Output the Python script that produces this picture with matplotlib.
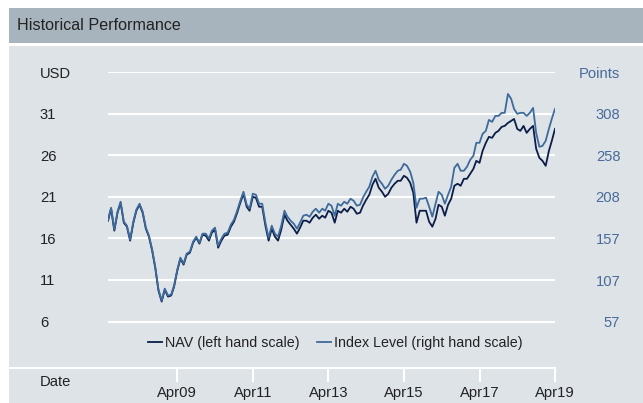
import numpy as np
import pandas as pd
import matplotlib
matplotlib.use("Agg")
import matplotlib.pyplot as plt
import matplotlib.dates as mdates
from matplotlib.patches import Rectangle
from matplotlib.lines import Line2D

# monthly observations, Jun 2007 .. Apr 2019
dates = pd.date_range("2007-06-01", "2019-04-01", freq="MS")

# NAV in USD (left hand scale)
nav = [18.14, 19.58, 16.94, 19.10, 20.30, 17.90, 17.42, 15.74, 17.90, 19.34,
       20.06, 19.10, 17.18, 16.22, 14.53, 12.37, 9.73, 8.40, 9.85, 9.00,
       9.13, 10.21, 12.13, 13.57, 12.85, 14.05, 14.29, 15.50, 16.10, 15.38,
       16.46, 16.34, 15.74, 16.70, 17.06, 14.89, 15.74, 16.34, 16.46, 17.42,
       18.02, 19.10, 20.30, 21.38, 19.82, 19.34, 21.02, 20.90, 19.82, 19.82,
       17.54, 15.74, 17.18, 16.22, 15.74, 17.06, 18.86, 18.14, 17.66, 17.18,
       16.58, 17.30, 18.14, 18.14, 17.90, 18.50, 18.86, 18.38, 18.74, 18.50,
       19.34, 19.10, 17.90, 19.34, 19.10, 19.58, 19.22, 19.82, 19.58, 18.98,
       19.10, 19.94, 20.66, 21.26, 22.47, 23.19, 22.11, 21.63, 21.02, 21.38,
       22.11, 22.59, 22.95, 22.95, 23.55, 23.31, 22.71, 21.50, 17.90, 19.34,
       19.34, 19.34, 18.02, 17.42, 18.38, 20.06, 19.82, 18.74, 20.06, 20.78,
       22.35, 22.59, 22.35, 23.19, 23.19, 23.79, 24.39, 25.35, 25.11, 26.55,
       27.51, 28.24, 28.12, 28.72, 28.96, 29.44, 29.56, 29.92, 30.16, 30.40,
       29.20, 28.96, 29.56, 28.72, 29.20, 29.56, 26.79, 25.71, 25.35, 24.75,
       26.55, 27.75, 29.20]

# Index level in points (right hand scale)
index_level = [180.1, 194.6, 168.0, 189.8, 201.8, 177.7, 172.9, 156.0, 177.7, 192.2,
               199.4, 189.8, 170.5, 160.8, 143.9, 122.2, 95.6, 82.3, 96.8, 88.4,
               89.6, 100.5, 119.8, 134.2, 127.0, 139.1, 141.5, 153.6, 159.6, 152.4,
               163.2, 163.2, 157.2, 166.8, 170.5, 148.7, 157.2, 163.2, 164.4, 174.1,
               180.1, 191.0, 203.0, 213.9, 198.2, 193.4, 211.5, 210.3, 199.4, 199.4,
               176.5, 158.4, 172.9, 163.2, 159.6, 172.9, 191.0, 183.7, 178.9, 175.3,
               169.3, 176.5, 184.9, 186.1, 183.7, 189.8, 193.4, 188.6, 193.4, 191.0,
               199.4, 197.0, 184.9, 199.4, 197.0, 201.8, 199.4, 205.5, 203.0, 197.0,
               198.2, 206.7, 213.9, 219.9, 232.0, 239.3, 228.4, 223.6, 217.5, 221.2,
               228.4, 234.4, 239.3, 240.5, 247.7, 245.3, 238.1, 224.8, 194.6, 205.5,
               205.5, 206.7, 195.8, 183.7, 199.4, 213.9, 210.3, 199.4, 210.3, 219.9,
               242.9, 247.7, 239.3, 239.3, 244.1, 252.5, 257.4, 273.1, 273.1, 283.9,
               287.5, 300.8, 298.4, 305.6, 305.6, 309.3, 309.3, 332.2, 326.2, 314.1,
               308.1, 309.3, 309.3, 305.6, 309.3, 315.3, 285.1, 268.2, 269.4, 275.5,
               290.0, 302.0, 314.1]

left_ticks = [6, 11, 16, 21, 26, 31, 36]
left_labels = ["6", "11", "16", "21", "26", "31", "USD"]
right_ticks = [57, 107, 157, 208, 258, 308, 358.2]
right_labels = ["57", "107", "157", "208", "258", "308", "Points"]
x_ticks = pd.to_datetime(["2009-04-01", "2011-04-01", "2013-04-01",
                          "2015-04-01", "2017-04-01", "2019-04-01"])

# points = scale * usd + offset
scale, offset = 10.04, -3.24

plt.rcParams["font.family"] = ["Liberation Sans", "DejaVu Sans"]
W, H = 643, 403
fs = 10.6
fig = plt.figure(figsize=(W / 100, H / 100), dpi=100, facecolor="white")

# header bar and panel background
fig.add_artist(Rectangle((9 / W, 1 - 43 / H), 1 - 9 / W, 35 / H,
                         transform=fig.transFigure, facecolor="#a7b3bd",
                         edgecolor="none", zorder=0))
fig.add_artist(Rectangle((9 / W, 0), 1 - 9 / W, 1 - 46 / H,
                         transform=fig.transFigure, facecolor="#dde3e7",
                         edgecolor="none", zorder=0))
fig.text(17 / W, 1 - 25 / H, "Historical Performance", fontsize=11.6,
         color="#222222", va="center", ha="left")

ax = fig.add_axes([108 / W, 1 - 368 / H, 447 / W, 296 / H])
ax.set_facecolor("none")
ax.set_zorder(2)
ylo, yhi = 0.4, 36.05
ax.set_ylim(ylo, yhi)
ax.set_xlim(dates[0], dates[-1])

ax.plot(dates, nav, color="#0b1d48", lw=1.3, zorder=3,
        label="NAV (left hand scale)")

ax2 = ax.twinx()
ax2.set_ylim(scale * ylo + offset, scale * yhi + offset)
ax2.plot(dates, index_level, color="#3e6a9c", lw=1.3, zorder=3,
         label="Index Level (right hand scale)")

for a in (ax, ax2):
    for s in a.spines.values():
        s.set_visible(False)

ax.set_yticks(left_ticks)
ax.set_yticklabels(left_labels)
ax.yaxis.grid(True, color="white", lw=1.5)
ax.set_axisbelow(True)
ax.tick_params(axis="y", length=0, pad=49, labelsize=fs, labelcolor="#222222")
for lab in ax.get_yticklabels():
    lab.set_horizontalalignment("left")

ax2.set_yticks(right_ticks)
ax2.set_yticklabels(right_labels)
ax2.tick_params(axis="y", length=0, pad=47, labelsize=fs, labelcolor="#4a6a9a")
for lab in ax2.get_yticklabels():
    lab.set_horizontalalignment("right")

ax.set_xticks(x_ticks)
ax.xaxis.set_major_formatter(mdates.DateFormatter("%b%y"))
ax.tick_params(axis="x", length=10, width=1.5, color="white", direction="out",
               pad=3.0, labelsize=fs, labelcolor="#222222")

# bottom axis line, running out to the panel edge
fig.add_artist(Line2D([9 / W, 555 / W], [1 - 368 / H, 1 - 368 / H],
                      transform=fig.transFigure, color="white", lw=1.5))
fig.text(40 / W, 1 - 382 / H, "Date", fontsize=fs, color="#222222",
         va="center", ha="left")

h1, l1 = ax.get_legend_handles_labels()
h2, l2 = ax2.get_legend_handles_labels()
ax2.legend(h1 + h2, l1 + l2, loc="center", bbox_to_anchor=(0.508, 0.085),
           ncol=2, frameon=False, fontsize=10.3, handlelength=1.0,
           handletextpad=0.2, columnspacing=1.2, labelcolor="#222222")

fig.savefig("out.png", dpi=100, facecolor="white")
